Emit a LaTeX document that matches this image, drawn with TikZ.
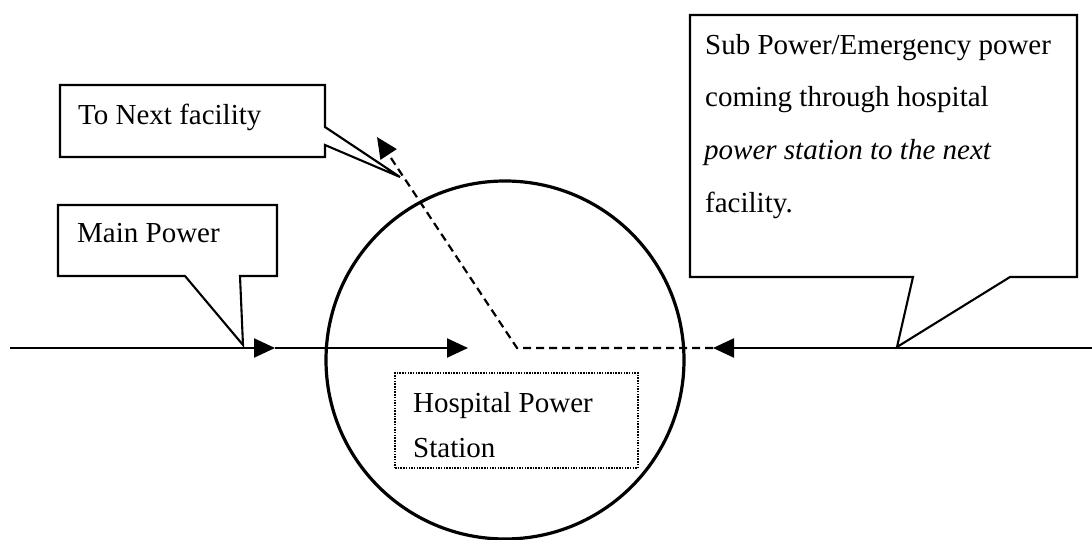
\documentclass[tikz,border=0pt]{standalone}
\usepackage{fontspec}
\setmainfont{Liberation Serif}
\usetikzlibrary{arrows.meta}
\begin{document}
\begin{tikzpicture}[x=1pt,y=-1pt,
  lbl/.style={font=\fontsize{29}{34}\selectfont, inner sep=0pt, anchor=base west},
  callout/.style={draw, line width=2.1pt, line join=miter},
  flow/.style={line width=2.2pt},
  tip/.style={-{Triangle[length=21pt,width=19pt]}},
  feed/.style={flow, dash pattern=on 8pt off 5pt}]
\useasboundingbox (0,0) rectangle (1092,540);

% power station ring and its label box
\node[draw, circle, line width=3.2pt, minimum size=358pt, inner sep=0pt] (station) at (505,360) {};
\node[draw, line width=1.5pt, dash pattern=on 1.5pt off 1.2pt,
      minimum width=243pt, minimum height=95pt, inner sep=0pt] (hpsbox) at (516.5,420.5) {};
\node[lbl] (hps1) at (413,412) {Hospital Power};
\node[lbl] (hps2) at (413,457) {Station};

% supply lines
\coordinate (west) at (10,348);
\coordinate (inA) at (275,348);
\coordinate (inB) at (468,348);
\coordinate (east) at (1092,348);
\coordinate (inC) at (713,348);
\coordinate (bend) at (517,348);
\coordinate (out) at (377,137);
\draw[flow,tip] (west) -- (inA);
\draw[flow,tip] (inA) -- (inB);
\draw[flow,tip] (east) -- (inC);
\draw[feed,tip] (inC) -- (bend) -- (out);

% callout: main power
\coordinate (mainTip) at (243,345);
\draw[callout] (58,205) -- (277,205) -- (277,276) -- (240,276) -- (mainTip)
  -- (185,276) -- (58,276) -- cycle;
\node[lbl] (main) at (77,243) {Main Power};

% callout: next facility
\coordinate (nextTip) at (400,177);
\draw[callout] (60,85) -- (325,85) -- (325,127) -- (nextTip) -- (325,145)
  -- (325,157) -- (60,157) -- cycle;
\node[lbl] (next) at (78,125) {To Next facility};

% callout: sub / emergency power
\coordinate (subTip) at (897,347);
\draw[callout] (690,15) -- (1077,15) -- (1077,277) -- (1010,277) -- (subTip)
  -- (913,277) -- (690,277) -- cycle;
\node[lbl] (sub1) at (705,55) {Sub Power/Emergency power};
\node[lbl] (sub2) at (705,107) {coming through hospital};
\node[lbl] (sub3) at (704,160) {\itshape power station to the next};
\node[lbl] (sub4) at (705,212) {facility.};
\end{tikzpicture}
\end{document}
